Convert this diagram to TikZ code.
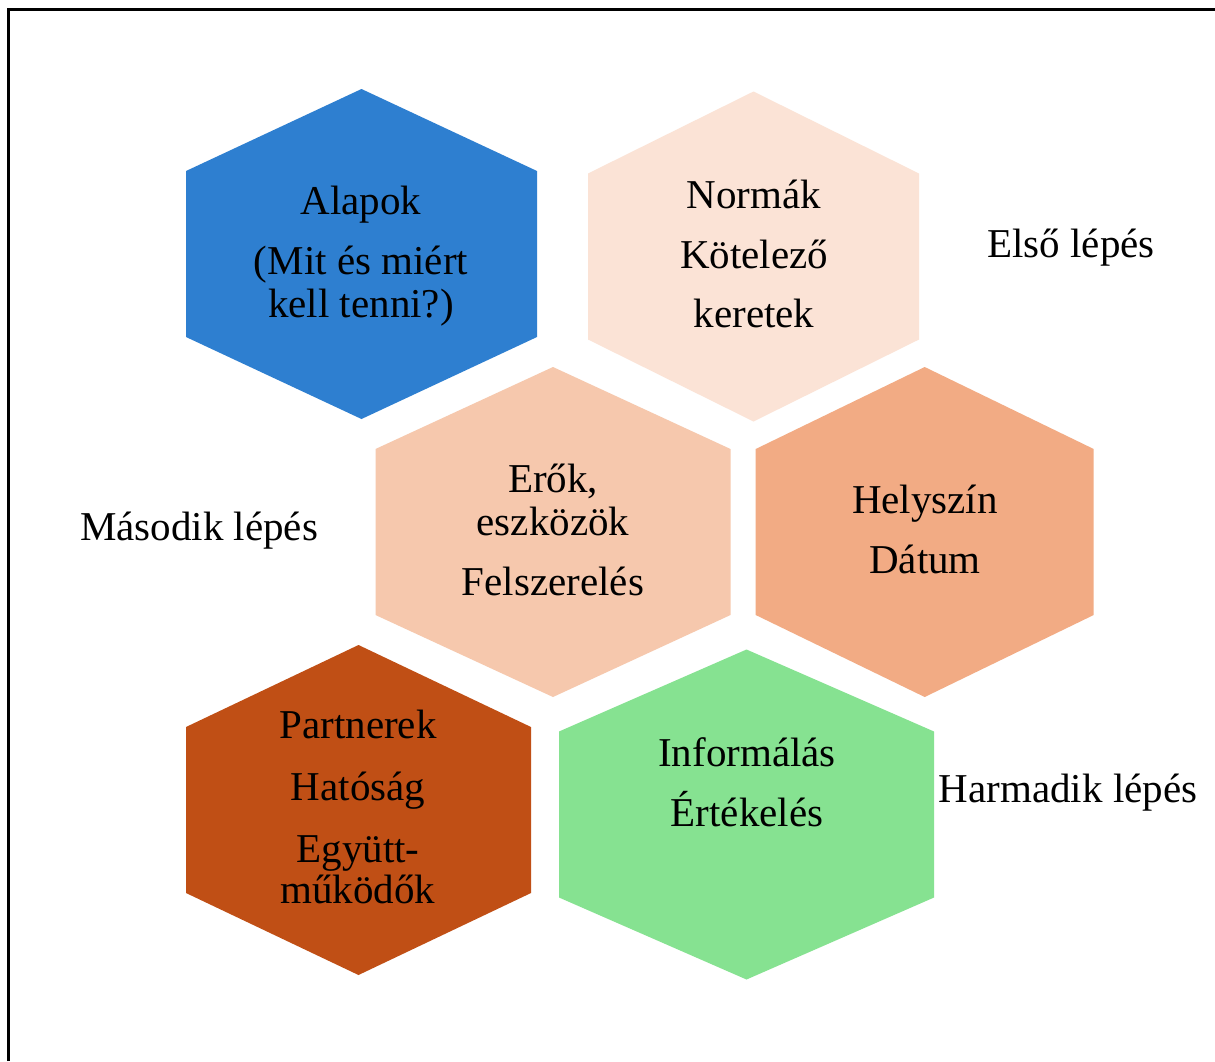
\documentclass[tikz,border=0pt]{standalone}
\usepackage{fontspec}
\setmainfont{Liberation Serif}
\definecolor{cblue}{HTML}{2E7FD0}
\definecolor{cpale}{HTML}{FBE3D6}
\definecolor{clight}{HTML}{F6C8AD}
\definecolor{cmid}{HTML}{F2AB84}
\definecolor{cdark}{HTML}{C04F15}
\definecolor{cgreen}{HTML}{86E291}
\newcommand{\hexshape}[5]{% cx, cy, half width, color, dummy
  \fill[#4] (#1,#2-165) -- (#1+#3,#2-83) -- (#1+#3,#2+83) -- (#1,#2+165)
    -- (#1-#3,#2+83) -- (#1-#3,#2-83) -- cycle;}
\begin{document}
\begin{tikzpicture}[x=0.5pt,y=-0.5pt,
  txt/.style={anchor=base, inner sep=0pt, font=\fontsize{20.5pt}{24pt}\selectfont}]
\useasboundingbox (0,0) rectangle (1215,1061);
\fill[white] (0,0) rectangle (1215,1061);
% frame
\draw[line width=1.5pt] (8,1061) -- (8,9) -- (1215,9);
% hexagons
\hexshape{361.5}{254}{175.5}{cblue}{}
\hexshape{753.5}{256.5}{165.5}{cpale}{}
\hexshape{553}{532}{177.5}{clight}{}
\hexshape{924.7}{532}{169}{cmid}{}
\hexshape{358.5}{810}{172.5}{cdark}{}
\hexshape{746.5}{814.5}{187.5}{cgreen}{}
% texts
\node[txt] (a1) at (361,214) {Alapok};
\node[txt] (a2) at (361,274) {(Mit és miért};
\node[txt] (a3) at (361,317) {kell tenni?)};
\node[txt] (n1) at (754,208) {Normák};
\node[txt] (n2) at (754,268) {Kötelező};
\node[txt] (n3) at (754,327) {keretek};
\node[txt] (e1) at (553,492) {Erők,};
\node[txt] (e2) at (553,535) {eszközök};
\node[txt] (e3) at (553,595) {Felszerelés};
\node[txt] (h1) at (925,513) {Helyszín};
\node[txt] (h2) at (925,573) {Dátum};
\node[txt] (p1) at (358,738) {Partnerek};
\node[txt] (p2) at (358,800) {Hatóság};
\node[txt] (p3) at (358,862) {Együtt-};
\node[txt] (p4) at (358,903) {működők};
\node[txt] (i1) at (747,766) {Informálás};
\node[txt] (i2) at (747,826) {Értékelés};
% step labels
\node[txt] (s1) at (1071,257) {Első lépés};
\node[txt] (s2) at (199,540) {Második lépés};
\node[txt] (s3) at (1068,802) {Harmadik lépés};
\end{tikzpicture}
\end{document}
